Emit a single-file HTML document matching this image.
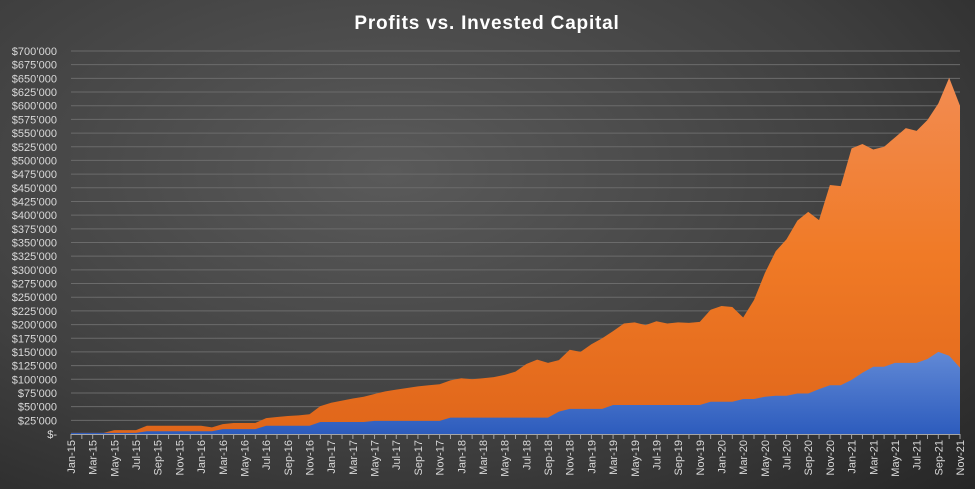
<!DOCTYPE html>
<html><head><meta charset="utf-8"><style>
html,body{margin:0;padding:0;}
body{width:975px;height:489px;overflow:hidden;background:radial-gradient(ellipse at 40% 35%,#5a5a5a 0%,#3f3f3f 60%,#262626 100%);font-family:"Liberation Sans",sans-serif;}
svg{display:block;}
svg text{font-family:"Liberation Sans",sans-serif;}
</style></head><body>
<svg id="chart" width="975" height="489" xmlns="http://www.w3.org/2000/svg">
<defs>
<linearGradient id="gOr" x1="0" y1="0" x2="0" y2="1"><stop offset="0" stop-color="#f28c52"/><stop offset="0.5" stop-color="#f07a26"/><stop offset="1" stop-color="#e0661a"/></linearGradient>
<linearGradient id="gBl" x1="0" y1="0" x2="0" y2="1"><stop offset="0" stop-color="#6189d6"/><stop offset="1" stop-color="#2d5cbd"/></linearGradient>
</defs>
<text x="487" y="29" text-anchor="middle" fill="#ffffff" font-size="19" font-weight="bold" letter-spacing="0.8">Profits vs. Invested Capital</text>
<g id="grid"></g><g id="areas"></g><g id="yaxis"></g><g id="xaxis"></g>
</svg>
<script>
const months=["Jan","Feb","Mar","Apr","May","Jun","Jul","Aug","Sep","Oct","Nov","Dec"];
const totalValue=[2,2,2,2,7,7,7,15,15,15,15,15,
15,12,18,20,20,20,29,31,33,34,36,51,
57,61,65,68,73,78,81,84,87,89,91,98,
102,100,102,104,108,114,128,136,130,135,154,150,
164,175,188,202,204,199,206,202,204,203,205,227,
234,232,213,245,294,334,356,390,406,391,455,453,
522,530,520,525,542,559,554,574,604,651,600];
const investedCapital=[2,2,2,2,2,2,2,5,5,5,5,5,
5,5,9,9,9,9,15,15,15,15,15,22,
22,22,22,22,24,24,24,24,24,24,24,30,
30,30,30,30,30,30,30,30,30,41,46,46,
46,46,53,53,53,53,53,53,53,53,53,59,
59,59,64,64,68,70,70,74,74,82,89,89,
99,112,123,123,130,130,130,137,150,143,121];
const yTicks=[0,25,50,75,100,125,150,175,200,225,250,275,300,325,350,375,400,425,450,475,500,525,550,575,600,625,650,675,700];
const categories=[];
for(let i=0;i<totalValue.length;i++){const y=15+Math.floor(i/12);categories.push(months[i%12]+"-"+y);}
const NS="http://www.w3.org/2000/svg";
const X0=71,X1=960,Y0=434,Y1=51;
const xs=i=>X0+(X1-X0)*i/(categories.length-1);
const ys=v=>Y0-(Y0-Y1)*v/700;
function el(tag,attrs,parent){const e=document.createElementNS(NS,tag);for(const k in attrs)e.setAttribute(k,attrs[k]);parent.appendChild(e);return e;}
const grid=document.getElementById('grid'),yax=document.getElementById('yaxis'),xax=document.getElementById('xaxis'),areas=document.getElementById('areas');
yTicks.forEach(t=>{
 const y=ys(t);
 if(t>0){const l=el('line',{x1:X0,x2:X1,y1:y,y2:y,stroke:'#6b6b6b','stroke-width':1},grid);
 
 }
 const lab=el('text',{x:57,y:y+4,'text-anchor':'end',fill:'#d9d9d9','font-size':11},yax);
 lab.textContent=t===0?'$-':'$'+t+'\u2019000';
 
 
});
function areaPath(arr){let d='M'+xs(0)+','+Y0;arr.forEach((v,i)=>{d+=' L'+xs(i).toFixed(2)+','+ys(v).toFixed(2);});d+=' L'+xs(arr.length-1)+','+Y0+' Z';return d;}
const pO=el('path',{d:areaPath(totalValue),fill:'url(#gOr)'},areas);


const pB=el('path',{d:areaPath(investedCapital),fill:'url(#gBl)'},areas);


const ax=el('line',{x1:X0,x2:X1,y1:Y0+0.5,y2:Y0+0.5,stroke:'#a6a6a6','stroke-width':1},xax);


categories.forEach((c,i)=>{
 const x=xs(i);
 const tk=el('line',{x1:x,x2:x,y1:Y0,y2:Y0+5,stroke:'#a6a6a6'},xax);
 
 
 if(i%2===0){
  const t=el('text',{x:0,y:0,transform:`translate(${x+4},440) rotate(-90)`,'text-anchor':'end',fill:'#d9d9d9','font-size':11},xax);
  t.textContent=c;
  
  
 }
});
</script>
</body></html>
